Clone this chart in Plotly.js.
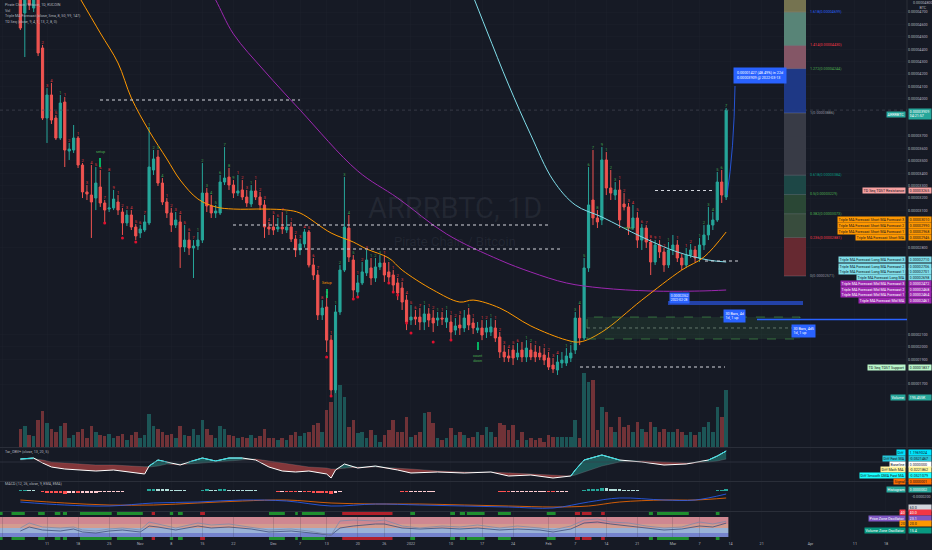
<!DOCTYPE html>
<html><head><meta charset="utf-8">
<script src="https://cdn.plot.ly/plotly-3.0.1.min.js"></script>
<style>html,body{margin:0;padding:0;background:#161a25;overflow:hidden}#chart{width:932px;height:550px}</style>
</head><body><div id="chart"></div>
<script>
// ===== DATA (prices in satoshi = 1e-8 BTC, one candle per day from 2021-10-05) =====
const firstDay = [2021, 9, 5];
const openSat = [
4880,4692,4880,4732,4830,4410,3845,4031,3845,3684,
3974,3579,3587,3684,3466,3249,3224,3200,3289,3160,
3111,3120,3168,3087,2999,3063,2966,2918,2942,2999,
3426,3531,3321,3168,3079,2982,3007,2805,2861,2797,
2813,2861,3240,3136,3079,3079,3329,3369,3305,3240,
3265,3208,3152,3257,3208,3144,2966,2966,2950,2966,
2942,2966,2869,2781,2830,2926,2660,2579,2257,2321,
2054,1652,2281,2619,2958,2700,2442,2515,2596,2636,
2555,2644,2676,2604,2579,2515,2474,2377,2216,2240,
2240,2200,2265,2232,2216,2232,2200,2200,2135,2176,
2152,2257,2192,2135,2152,2119,2119,2152,2079,1958,
1926,1974,1918,1974,1918,1974,1958,1950,1934,1910,
1853,1813,1869,1869,1910,1974,2232,2071,2636,3184,
3039,3023,3507,3281,3224,3265,3152,3128,2958,3039,
2861,2958,2845,2684,2821,2765,2660,2781,2821,2716,
2660,2740,2781,2716,2821,2902,2982,3023,3329,3208];
const highSat = [
4950,4900,4950,4920,4870,4434,4087,4128,3870,4031,
4015,3644,3789,3700,3482,3305,3466,3450,3426,3184,
3410,3265,3224,3120,3103,3103,2990,2982,3063,3773,
3587,3587,3361,3200,3120,3087,3063,2982,2926,2861,
2926,3482,3281,3224,3144,3386,3611,3442,3345,3386,
3345,3265,3305,3345,3249,3184,3007,3063,3039,3087,
3063,3007,2902,2870,2950,2942,2716,2619,2377,2418,
2095,2337,2660,3370,3063,2740,2579,2684,2781,2716,
2716,2740,2740,2684,2619,2555,2523,2418,2337,2297,
2313,2337,2313,2297,2281,2281,2297,2257,2232,2257,
2297,2313,2232,2200,2216,2216,2232,2216,2119,2014,
1982,2014,2031,2039,2054,2031,2014,2006,1990,1958,
1910,1934,1958,1990,2014,2281,2337,2716,3450,3587,
3103,3611,3571,3426,3329,3345,3240,3160,3144,3087,
2990,2982,2869,2861,2861,2797,2845,2902,2861,2748,
2797,2829,2813,2878,2982,3128,3087,3410,3426,3926];
const lowSat = [
4555,4337,4716,4700,4345,3829,3644,3797,3668,3668,
3450,3507,3563,3442,3200,3184,2878,3103,3128,2999,
3087,3103,3063,2902,2974,2942,2861,2878,2926,2982,
3386,3297,3144,3039,2926,2958,2636,2765,2740,2555,
2781,2837,3087,3039,3039,3063,3305,3265,3200,3216,
3184,3128,3128,3184,3103,2878,2902,2902,2926,2910,
2918,2845,2724,2740,2800,2640,2539,2216,2216,1958,
1595,1627,2257,2603,2684,2394,2402,2498,2571,2498,
2523,2619,2523,2515,2442,2377,2297,2135,2176,2176,
2135,2135,2160,2119,2168,2176,2152,2054,2095,2095,
2119,2135,2103,2111,2054,2071,2087,2039,1910,1877,
1877,1853,1893,1877,1877,1893,1877,1893,1853,1813,
1789,1773,1829,1845,1877,1942,2014,2054,2604,2982,
2958,2982,3224,3184,3184,2958,3100,2902,2942,2797,
2781,2797,2579,2660,2716,2604,2636,2740,2684,2619,
2636,2716,2684,2684,2781,2861,2942,3007,3160,3184];
const closeSat = [
4571,4850,4757,4860,4370,3845,4031,3829,3684,3966,
3587,3595,3684,3466,3249,3232,3168,3321,3160,3103,
3120,3192,3103,2999,3063,2966,2894,2950,3007,3450,
3515,3321,3168,3079,2982,3023,2805,2861,2797,2813,
2861,3240,3136,3079,3095,3329,3361,3305,3240,3257,
3208,3160,3257,3208,3144,2966,2950,2942,2966,2950,
2966,2869,2781,2830,2926,2660,2579,2257,2313,2054,
1652,2281,2619,2966,2724,2458,2515,2604,2700,2555,
2644,2676,2579,2563,2498,2434,2361,2200,2240,2224,
2200,2265,2216,2192,2232,2224,2232,2119,2168,2152,
2232,2176,2152,2152,2095,2152,2160,2071,1958,1918,
1910,1910,1950,1918,1990,1918,1918,1918,1893,1837,
1821,1877,1893,1926,1950,2232,2071,2636,3144,3039,
3007,3507,3281,3240,3265,3023,3128,2958,3039,2861,
2958,2845,2684,2821,2765,2660,2781,2821,2716,2660,
2740,2781,2716,2821,2902,2982,3023,3329,3224,3909];
const volumeK = [
61,71,41,37,92,122,82,61,51,71,82,
31,41,51,61,31,71,51,41,37,45,
31,37,45,25,41,51,31,41,112,71,
61,51,41,45,31,71,41,37,61,41,
92,61,41,31,71,61,41,37,31,35,
31,41,31,37,61,31,29,25,31,25,41,51,37,
48,51,75,82,51,126,153,381,211,170,
68,92,48,51,31,58,41,17,41,58,92,51,51,102,34,41,51,116,119,82,
31,24,31,65,41,51,41,31,34,51,41,68,51,34,82,75,58,75,24,51,
24,31,24,31,17,41,34,34,34,34,34,92,31,252,221,228,58,
136,119,68,51,102,68,75,51,85,61,51,85,68,51,61,51,51,61,51,41,
51,41,51,68,85,51,136,102,195];

// Moving averages (sampled at day index, satoshi)
const shortMaDay = [13,18,22,25,29,33,36,40,44,48,55,60,63,70,75,78,83,86,93,99,102,108,115,123,126,131,140,149,154,159];
const shortMaSat = [4837,4531,4289,4007,3741,3515,3345,3192,3128,3111,3111,3103,3079,2918,2845,2789,2716,2619,2458,2361,2377,2313,2168,2055,2039,2119,2377,2619,2724,2926];
const midMaDay = [42,44,48,55,63,76,85,96,108,115,123,131,142,153,159];
const midMaSat = [4918,4797,4523,4224,3910,3418,3200,2910,2700,2603,2515,2474,2450,2450,2458];
const longMaDay = [101,105,110,115,120,125,131,140,148,155,159];
const longMaSat = [4918,4555,4112,3708,3345,3144,3047,2886,2765,2700,2684];

// Tar_OBV+ pane (sampled)
const obvDay  = [0,3,5,7,10,13,17,21,25,28,29,31,33,36,38,41,44,47,50,53,56,59,62,65,69,70,71,73,76,80,85,88,94,100,106,110,115,120,124,125,127,131,135,140,145,150,155,157,159];
const obvMain = [0.3,0.4,-0.1,-0.5,-0.7,-0.8,-0.9,-0.8,-1.0,-1.2,-0.4,0.2,0.0,-0.3,0.0,0.4,0.1,0.4,0.4,0.2,-0.5,-0.9,-1.0,-0.9,-1.2,-1.6,-0.8,-0.2,-0.6,-0.4,-0.8,-1.1,-1.0,-1.1,-1.0,-1.4,-1.3,-1.6,-1.4,-0.8,0.2,0.7,0.2,0.0,-0.3,-0.2,0.2,0.6,1.1];
const obvMa   = [0.2,0.3,0.2,0.0,-0.1,-0.2,-0.3,-0.3,-0.4,-0.5,-0.5,-0.4,-0.2,-0.2,-0.2,-0.1,0.0,0.1,0.2,0.3,0.1,-0.1,-0.3,-0.5,-0.6,-0.7,-0.7,-0.6,-0.5,-0.5,-0.6,-0.7,-0.9,-1.0,-1.0,-1.1,-1.2,-1.3,-1.4,-1.3,-1.0,-0.4,0.0,0.1,0.0,-0.1,0.0,0.1,0.3];

// MACD pane
const macdDay  = [0,10,20,30,40,50,60,70,80,90,100,110,120,128,135,145,152,159];
const macdLine = [-11,-14,-15,-12,-11,-9,-10,-15,-13,-14,-15,-16,-17,-11,-7,-9,-9,-3];
const signalLn = [-9,-12,-14,-14,-12,-10,-9,-12,-13,-13,-14,-15,-16,-15,-11,-9,-9,-7];
const macdHist = [1,1.2,1,0.8,0.5,
-1,-1.8,-2,-2.2,-2.3,-2.5,-2.4,-2.2,-2.3,-2.2,-2,
-1.8,-1.5,-1.2,-1,-0.8,-0.6,-0.5,-0.5,-0.3,-0.2,-0.2,0.1,
0.5,2,2.5,2.2,2,1.8,1.5,1.2,0.8,0.6,0.5,0.3,0.4,
1.5,1.6,1.5,1.4,1.6,1.7,1.5,1.3,1.2,1,0.9,0.8,0.7,0.5,
0.1,-0.2,-0.4,-0.5,-0.5,-0.6,-0.8,-1,-1,-1.1,-1.3,-1.6,-1.8,-2,-2.2,
-2.5,-1.5,-0.5,0.5,0.4,0.2,0.2,0.3,0.4,0.3,0.3,
0.3,0.2,0.1,-0.1,-0.3,-0.5,-0.8,-0.8,-0.7,-0.7,-0.6,-0.6,-0.5,-0.4,-0.4,-0.3,-0.4,-0.3,-0.3,-0.2,
-0.2,-0.2,-0.2,-0.3,-0.2,-0.2,-0.3,-0.6,-0.7,-0.8,-0.8,-0.7,-0.7,-0.6,-0.6,-0.6,-0.6,-0.6,-0.7,-0.8,-0.7,-0.6,-0.5,-0.4,
0.2,0.3,1.5,2.2,2.5,2.5,2.8,2.6,2.4,2.2,1.8,1.5,1.2,1,0.8,0.5,
0.3,0,-0.3,-0.3,-0.4,-0.4,-0.3,-0.3,-0.4,-0.3,-0.2,-0.2,-0.1,0.1,0.3,0.5,1.2,1.3,2.2];

// Price / Volume zone oscillator pane
const pzoDay = [0,2,5,9,12,14,17,20,23,27,29,31,35,40,43,47,52,56,61,65,70,72,75,80,82,86,90,95,99,103,108,112,117,120,124,127,130,133,137,141,145,149,153,156,159];
const pzo = [-4,16,0,-4,0,-12,-16,-8,-4,-12,20,12,-4,16,8,12,0,-12,-8,-16,-32,24,28,24,28,4,-4,4,0,8,-4,4,-4,-12,4,28,32,20,16,4,-4,0,20,12,23.1];
const vzo = [-16,0,-12,-16,-8,-20,-24,-16,-12,-20,4,0,-12,4,-4,0,-8,-20,-16,-24,-32,-4,4,12,12,-4,-8,-4,-8,-4,-12,-8,-12,-20,-8,16,20,12,4,-4,-12,-8,4,0,15.4];
const zoneLevels = [40, 12, -4, -24, -40];
const zoneColors = ['#e3939d','#e8ab9c','#a9c3ea','#7f8fe0'];
const sigGreen = [['2021-09-30','2021-10-01'],['2021-10-03','2021-10-06'],['2021-10-09','2021-10-10 12:00'],['2021-10-12 18:00','2021-10-14'],['2021-10-14 14:00','2021-10-15 12:00'],['2021-10-18 10:00','2021-10-25 14:00'],['2021-10-26 18:00','2021-11-01 14:00'],['2021-11-07 16:00','2021-11-08 10:00'],['2021-11-09 12:00','2021-11-10 14:00'],['2021-11-30','2021-12-03 14:00'],['2021-12-05 22:00','2021-12-06 12:00'],['2021-12-07 10:00','2021-12-12 14:00'],['2021-12-31 20:00','2022-01-01 22:00'],['2022-01-09 20:00','2022-01-10 22:00'],['2022-01-12','2022-01-13 04:00'],['2022-01-13 14:00','2022-01-17 14:00'],['2022-01-20 14:00','2022-01-23 12:00'],['2022-01-31 14:00','2022-02-02 14:00'],['2022-02-23 14:00','2022-02-24 12:00'],['2022-02-25 10:00','2022-03-04 14:00'],['2022-03-10 16:00','2022-03-11 12:00']];
const sigRed = [['2021-11-03 14:00','2021-11-04 08:00'],['2021-11-14 12:00','2021-11-15 14:00'],['2021-12-16 12:00','2021-12-27 20:00'],['2022-02-06 22:00','2022-02-08 02:00'],['2022-02-08 12:00','2022-02-10 16:00'],['2022-02-12 20:00','2022-02-13 16:00']];

// TD Seq red markers
const tdDotDay = [19,23,26,69,70,75,76,83,84,85,87,88,93,97];
const tdDotSat = [2999,2878,2845,1918,1603,2386,2402,2515,2442,2418,2192,2111,2039,2054];

// Fibonacci retracement
const fibZero = 2571, fibOne = 3886;
const fibLevels = [0,0.236,0.382,0.5,0.618,1,1.272,1.414,1.618,2];
const fibBandColors = ['#6a2a31','#3a4f3e','#2b4a36','#1d4a48','#3a3d48','#1f3a8a','#8a5a69','#5c8a7b','#7a7852'];
const fibLabelColors = ['#9598a1','#f23645','#4caf50','#4caf50','#089981','#9598a1','#4caf50','#f23645','#2962ff'];

// Axis ticks
const priceTicksSat = [1700,1800,1900,2000,2100,2200,2300,2400,2500,2600,2700,2800,2900,3000,3100,3200,3300,3400,3500,3600,3700,3800,3900,4000,4100,4200,4300,4400,4500,4600,4700];
const xTickDates = ['2021-10-01','2021-10-11','2021-10-18','2021-10-25','2021-11-01','2021-11-08','2021-11-15','2021-11-22','2021-12-01','2021-12-07','2021-12-13','2021-12-20','2021-12-26','2022-01-01','2022-01-10','2022-01-17','2022-01-24','2022-02-01','2022-02-07','2022-02-14','2022-02-21','2022-03-01','2022-03-07','2022-03-14','2022-03-21','2022-04-01','2022-04-11','2022-04-18'];
const xTickText = ['Oct','11','18','25','Nov','8','15','22','Dec','7','13','20','26','2022','10','17','24','Feb','7','14','21','Mar','7','14','21','Apr','11','18'];

// ===== BUILD =====
const S = v => v * 1e-8;
function day(i){ const d = new Date(Date.UTC(firstDay[0], firstDay[1], firstDay[2] + i)); return d.toISOString().slice(0,10); }
const dates = openSat.map((_, i) => day(i));
const PH = 540, PW = 907;
const yp = px => 1 - px / PH;
const xp = px => px / PW;
const FONT = 'Roboto, "DejaVu Sans", sans-serif';
const FS = 3.7;
const P_TOP = 4797, P_BOT = 1192;
const satToPx = v => (P_TOP - v) / (P_TOP - P_BOT) * 447;

// TD setup counts derived from closes (close vs close 4 bars earlier)
const tdX = [], tdY = [], tdT = [], tdC = [];
{
  let up = 0, dn = 0;
  for (let i = 4; i < closeSat.length; i++) {
    if (closeSat[i] > closeSat[i-4]) { up = up >= 9 ? 1 : up + 1; dn = 0; }
    else if (closeSat[i] < closeSat[i-4]) { dn = dn >= 9 ? 1 : dn + 1; up = 0; }
    else { up = 0; dn = 0; }
    const c = up || dn;
    if (c && satToPx(highSat[i]) > 12) { tdX.push(dates[i]); tdY.push(S(highSat[i])); tdT.push(String(c)); tdC.push(up ? '#3fa34d' : '#e0383e'); }
  }
}

const traces = [];
traces.push({type:'bar', x:dates, y:volumeK, yaxis:'y', xaxis:'x',
  marker:{color: dates.map((_,i)=> closeSat[i] >= openSat[i] ? 'rgba(38,166,154,0.42)' : 'rgba(239,83,80,0.42)'), line:{width:0}},
  width: 0.8*86400000, hoverinfo:'skip'});
traces.push({type:'scatter', mode:'lines', x:midMaDay.map(day), y:midMaSat.map(S), yaxis:'y2', line:{color:'#9c27b0', width:1, shape:'spline'}, hoverinfo:'skip'});
traces.push({type:'scatter', mode:'lines', x:longMaDay.map(day), y:longMaSat.map(S), yaxis:'y2', line:{color:'#80deea', width:1, shape:'spline'}, hoverinfo:'skip'});
traces.push({type:'scatter', mode:'lines', x:shortMaDay.map(day), y:shortMaSat.map(S), yaxis:'y2', line:{color:'#ff9800', width:1, shape:'spline'}, hoverinfo:'skip'});
traces.push({type:'candlestick', x:dates, open:openSat.map(S), high:highSat.map(S), low:lowSat.map(S), close:closeSat.map(S),
  yaxis:'y2', xaxis:'x', whiskerwidth:0,
  increasing:{line:{color:'#26a69a', width:1}, fillcolor:'#26a69a'},
  decreasing:{line:{color:'#ef5350', width:1}, fillcolor:'#ef5350'}, hoverinfo:'skip'});
traces.push({type:'scatter', mode:'markers', x:tdDotDay.map(day), y:tdDotSat.map(S), yaxis:'y2', marker:{color:'#e0102f', size:3}, hoverinfo:'skip'});
traces.push({type:'scatter', mode:'text', x:tdX, y:tdY, text:tdT, textposition:'top center', yaxis:'y2',
  textfont:{family:FONT, size:4, color:tdC}, hoverinfo:'skip', cliponaxis:true});

const obvX = obvDay.map(day);
const obvHi = obvMain.map((v,i)=>Math.max(v, obvMa[i]));
const obvLo = obvMain.map((v,i)=>Math.min(v, obvMa[i]));
traces.push({type:'scatter', mode:'lines', x:obvX, y:obvMa, yaxis:'y3', line:{color:'rgba(120,120,130,0.6)', width:0.6}, hoverinfo:'skip'});
traces.push({type:'scatter', mode:'lines', x:obvX, y:obvHi, yaxis:'y3', line:{width:0}, fill:'tonexty', fillcolor:'rgba(38,166,154,0.45)', hoverinfo:'skip'});
traces.push({type:'scatter', mode:'lines', x:obvX, y:obvMa, yaxis:'y3', line:{width:0}, hoverinfo:'skip'});
traces.push({type:'scatter', mode:'lines', x:obvX, y:obvLo, yaxis:'y3', line:{width:0}, fill:'tonexty', fillcolor:'rgba(239,83,80,0.5)', hoverinfo:'skip'});
traces.push({type:'scatter', mode:'lines', x:obvX, y:obvMain, yaxis:'y3', line:{color:'#ffffff', width:1}, hoverinfo:'skip'});
traces.push({type:'scatter', mode:'lines', x:obvX, y:obvMain.map((v,i)=> v >= obvMa[i] ? v : null), yaxis:'y3', line:{color:'#26e0e6', width:1}, connectgaps:false, hoverinfo:'skip'});

traces.push({type:'bar', x:dates, y:macdHist, yaxis:'y4', width:0.8*86400000,
  marker:{color: macdHist.map((v,i)=>{const p = i>0?macdHist[i-1]:v; return v>=0 ? (v>=p?'#26a69a':'#b2dfdb') : (v<p?'#ff5252':'#ffcdd2');}), line:{width:0}}, hoverinfo:'skip'});
traces.push({type:'scatter', mode:'lines', x:macdDay.map(day), y:signalLn, yaxis:'y4', line:{color:'#ff6d00', width:0.8, shape:'spline'}, hoverinfo:'skip'});
traces.push({type:'scatter', mode:'lines', x:macdDay.map(day), y:macdLine, yaxis:'y4', line:{color:'#2962ff', width:0.8, shape:'spline'}, hoverinfo:'skip'});

traces.push({type:'scatter', mode:'lines', x:pzoDay.map(day), y:vzo, yaxis:'y5', line:{color:'#3f4f7a', width:0.8}, hoverinfo:'skip'});
traces.push({type:'scatter', mode:'lines', x:pzoDay.map(day), y:pzo, yaxis:'y5', line:{color:'#7f8aa8', width:0.8}, hoverinfo:'skip'});

// ===== SHAPES =====
const shapes = [];
const lastDay = day(openSat.length - 1);
for (let i = 0; i < zoneColors.length; i++) {
  shapes.push({type:'rect', xref:'x', yref:'y5', x0:'2021-09-30', x1:lastDay+' 12:00', y0:zoneLevels[i+1], y1:zoneLevels[i], fillcolor:zoneColors[i], line:{width:0}, layer:'below', opacity:0.9});
}
[[512,515],[537,540]].forEach(([a,b])=>{
  sigGreen.forEach(([s,e])=>shapes.push({type:'rect', xref:'x', yref:'paper', x0:s, x1:e, y0:yp(b), y1:yp(a), fillcolor:'#1e8e2e', line:{width:0}}));
  sigRed.forEach(([s,e])=>shapes.push({type:'rect', xref:'x', yref:'paper', x0:s, x1:e, y0:yp(b), y1:yp(a), fillcolor:'#b0202a', line:{width:0}}));
});
[447.5, 481.5, 511.5].forEach(p=>shapes.push({type:'line', xref:'paper', yref:'paper', x0:0, x1:1.03, y0:yp(p), y1:yp(p), line:{color:'#2a2e39', width:1}}));
shapes.push({type:'line', xref:'paper', yref:'paper', x0:1, x1:1, y0:0, y1:1, line:{color:'#2a2e39', width:1}});
shapes.push({type:'line', xref:'paper', yref:'y3', x0:0, x1:1, y0:0, y1:0, line:{color:'#3a3e4a', width:0.6}});
shapes.push({type:'line', xref:'paper', yref:'y2', x0:0, x1:1, y0:S(closeSat[closeSat.length-1]), y1:S(closeSat[closeSat.length-1]), line:{color:'#4b4f5c', width:0.6, dash:'dot'}});
const dotted = [[xp(100), xp(300), 3990],[xp(233), xp(560), 2789],[xp(233), xp(548), 2982],[xp(655), xp(713), 3261],[xp(705), xp(740), 2692],[xp(580), xp(725), 1837]];
dotted.forEach(([a,b,v])=>shapes.push({type:'line', xref:'paper', yref:'y2', x0:a, x1:b, y0:S(v), y1:S(v), line:{color:'#d1d4dc', width:1.1, dash:'dot'}}));
for (let i = 0; i < fibLevels.length - 1; i++) {
  const lo = fibZero + (fibOne - fibZero) * fibLevels[i];
  const hi = fibZero + (fibOne - fibZero) * fibLevels[i+1];
  shapes.push({type:'rect', xref:'paper', yref:'y2', x0:xp(784), x1:xp(806), y0:S(lo), y1:S(hi), fillcolor:fibBandColors[i], line:{width:0}, opacity:0.95});
  shapes.push({type:'line', xref:'paper', yref:'y2', x0:xp(784), x1:xp(806), y0:S(lo), y1:S(lo), line:{color:'rgba(200,200,210,0.35)', width:0.6}});
}
shapes.push({type:'rect', xref:'paper', yref:'y2', x0:xp(587), x1:xp(800), y0:S(2063), y1:S(2240), fillcolor:'rgba(76,175,80,0.12)', line:{color:'rgba(76,175,80,0.7)', width:0.8, dash:'dash'}});
shapes.push({type:'line', xref:'paper', yref:'y2', x0:xp(587), x1:xp(800), y0:S(2152), y1:S(2152), line:{color:'rgba(200,230,200,0.5)', width:0.8, dash:'dot'}});
shapes.push({type:'rect', xref:'paper', yref:'y2', x0:xp(668), x1:xp(803), y0:S(2337), y1:S(2369), fillcolor:'#2342a8', line:{width:0}});
shapes.push({type:'line', xref:'paper', yref:'y2', x0:xp(757), x1:1, y0:S(2220), y1:S(2220), line:{color:'#2962ff', width:1.5}});
shapes.push({type:'path', xref:'paper', yref:'paper', path:`M ${xp(727)} ${yp(195)} Q ${xp(734)} ${yp(150)} ${xp(735)} ${yp(86)}`, line:{color:'#2962ff', width:0.8}});

// ===== ANNOTATIONS =====
const ann = [];
function txt(t, x, y, o={}) {
  ann.push(Object.assign({xref:'paper', yref:'paper', x:xp(x), y:yp(y), text:t, showarrow:false, xanchor:'left', yanchor:'middle',
    font:{family:FONT, size:FS, color:'#b2b5be'}}, o));
}
txt('Pirate Chain / Bitcoin, 1D, KUCOIN', 3, 5);
txt('Vol', 3, 10.5);
txt('Triple MA Forecast (close, Sma, 8, 50, 99, 147)', 3, 16);
txt('TD Seq (close, 9, 4, 1, 13, 2, 8, 0)', 3, 21.5);
txt('Tar_OBV+ (close, 13, 20, 5)', 3, 452);
txt('MACD (12, 26, close, 9, EMA, EMA)', 3, 484);
txt('ARRRBTC, 1D', 455, 208, {xanchor:'center', font:{family:FONT, size:29, color:'rgba(125,130,145,0.13)'}});
txt('Pirate Chain / Bitcoin', 455, 241, {xanchor:'center', font:{family:FONT, size:13, color:'rgba(125,130,145,0.13)'}});
for (let i = 0; i < fibLevels.length - 1; i++) {
  const v = fibZero + (fibOne - fibZero) * fibLevels[i];
  ann.push({xref:'paper', yref:'y2', x:xp(808), y:S(v), text:`${fibLevels[i]}(${S(v).toFixed(8)})`, showarrow:false, xanchor:'left', yanchor:'middle', font:{family:FONT, size:FS, color:fibLabelColors[i]}});
}
txt('0.00001427 (48.49%) in 22d<br>0.00003909 @ 2022-03-13', 733, 76, {bgcolor:'#2962ff', font:{family:FONT, size:FS, color:'#ffffff'}, borderpad:3, align:'left'});
txt('30 Bars, 4d<br>1d, 1 up', 723, 316, {bgcolor:'#2962ff', font:{family:FONT, size:FS, color:'#ffffff'}, borderpad:1.5, align:'left'});
txt('30 Bars, 4d5<br>1d, 1 up', 791, 331, {bgcolor:'#2962ff', font:{family:FONT, size:FS, color:'#ffffff'}, borderpad:1.5, align:'left'});
txt('0.00002362<br>2022-02-28', 669, 298, {bgcolor:'#2962ff', font:{family:FONT, size:FS-0.4, color:'#ffffff'}, borderpad:0.8, align:'left'});
txt('setup', 100, 152, {xanchor:'center', font:{family:FONT, size:FS, color:'#4caf50'}});
txt('Setup', 326, 283, {xanchor:'center', font:{family:FONT, size:FS, color:'#ff9800'}});
txt('count<br>down', 478, 358, {xanchor:'center', font:{family:FONT, size:FS, color:'#4caf50'}});
txt('setup', 628, 228, {xanchor:'center', font:{family:FONT, size:FS, color:'#4caf50'}});
shapes.push({type:'line', xref:'paper', yref:'paper', x0:xp(100), x1:xp(100), y0:yp(158), y1:yp(167), line:{color:'#00e676', width:1.5}});
shapes.push({type:'line', xref:'paper', yref:'paper', x0:xp(327), x1:xp(327), y0:yp(289), y1:yp(298), line:{color:'#00e676', width:1.5}});
shapes.push({type:'line', xref:'paper', yref:'paper', x0:xp(478), x1:xp(478), y0:yp(342), y1:yp(350), line:{color:'#00e676', width:1.5}});

const labelYs = [];
function axisLabel(name, value, yPx, bg, fg) {
  labelYs.push(yPx);
  if (name) ann.push({xref:'paper', yref:'paper', x:xp(906), y:yp(yPx), text:name, showarrow:false, xanchor:'right', yanchor:'middle', bgcolor:bg, borderpad:0.6, font:{family:FONT, size:FS, color:fg}});
  ann.push({xref:'paper', yref:'paper', x:xp(908), y:yp(yPx), text:value, showarrow:false, xanchor:'left', yanchor:'middle', bgcolor:bg, borderpad:0.6, width:21, align:'left', font:{family:FONT, size:FS, color:fg}});
}
txt('0.00004800<br>BTC', 911, 5, {font:{family:FONT, size:FS, color:'#b2b5be'}, align:'center'});
axisLabel('ARRRBTC', '0.00003909<br>04:21:57', 114, '#26a69a', '#ffffff');
labelYs.push(109, 119);
axisLabel('TD Seq TDST Resistance', '0.00003265', 191, '#f7a1a1', '#131722');
axisLabel('Triple MA Forecast Short MA Forecast 3', '0.00003010', 219, '#ff9800', '#131722');
axisLabel('Triple MA Forecast Short MA Forecast 2', '0.00002990', 225, '#ff9800', '#131722');
axisLabel('Triple MA Forecast Short MA Forecast 1', '0.00002968', 231, '#ff9800', '#131722');
axisLabel('Triple MA Forecast Short MA', '0.00002946', 237, '#ff9800', '#131722');
axisLabel('Triple MA Forecast Long MA Forecast 3', '0.00002710', 260, '#80deea', '#131722');
axisLabel('Triple MA Forecast Long MA Forecast 2', '0.00002706', 266, '#80deea', '#131722');
axisLabel('Triple MA Forecast Long MA Forecast 1', '0.00002701', 271.5, '#80deea', '#131722');
axisLabel('Triple MA Forecast Long MA', '0.00002698', 277, '#80deea', '#131722');
axisLabel('Triple MA Forecast Mid MA Forecast 3', '0.00002472', 283, '#9c27b0', '#ffffff');
axisLabel('Triple MA Forecast Mid MA Forecast 2', '0.00002468', 289, '#9c27b0', '#ffffff');
axisLabel('Triple MA Forecast Mid MA Forecast 1', '0.00002464', 294.5, '#9c27b0', '#ffffff');
axisLabel('Triple MA Forecast Mid MA', '0.00002461', 300, '#9c27b0', '#ffffff');
axisLabel('TD Seq TDST Support', '0.00001837', 367, '#b9f6ca', '#131722');
axisLabel('Volume', '195.455K', 397, '#26a69a', '#ffffff');
labelYs.push(313, 318);
axisLabel('Diff', '1.1969024', 452, '#00e5ff', '#131722');
axisLabel('Diff Fast MA', '-0.0521467', 458.5, '#26c6da', '#131722');
axisLabel('Baseline', '0.0000000', 464, '#ffffff', '#131722');
axisLabel('Diff Math MA', '-0.0221862', 469.5, '#fff59d', '#131722');
axisLabel('Diff Smooth DMA Fast MA', '-0.0521079', 475, '#18ffff', '#131722');
axisLabel('Signal', '0.0000001', 481, '#ff6d00', '#131722');
axisLabel('Histogram', '0.0000002', 489, '#26a69a', '#ffffff');
txt('-0.0000200', 910, 497, {font:{family:FONT, size:FS, color:'#b2b5be'}});
axisLabel('', '60.0', 507, '#d1d4dc', '#131722');
axisLabel('40', '40.0', 512.5, '#f23645', '#ffffff');
axisLabel('Price Zone Oscillator', '23.1', 518, '#7e57c2', '#ffffff');
axisLabel('20', '20.0', 523.5, '#ff9800', '#131722');
axisLabel('Volume Zone Oscillator', '15.4', 530, '#089981', '#ffffff');

const shownTicks = priceTicksSat.filter(v => labelYs.every(y => Math.abs(satToPx(v) - y) > 5));

const axBase = {showgrid:false, zeroline:false, showticklabels:false, fixedrange:true, showline:false};
const layout = {
  width:932, height:550, margin:{l:0, r:25, t:0, b:10},
  paper_bgcolor:'#161a25', plot_bgcolor:'#161a25', showlegend:false, hovermode:false, dragmode:false,
  bargap:0,
  xaxis:{type:'date', range:['2021-09-30 09:53','2022-04-22 17:45'], anchor:'y5', rangeslider:{visible:false},
    tickvals:xTickDates, ticktext:xTickText, tickfont:{family:FONT, size:FS, color:'#b2b5be'}, ticks:'',
    showgrid:true, gridcolor:'rgba(42,46,57,0.35)', gridwidth:0.5, zeroline:false, showline:false, fixedrange:true},
  yaxis:Object.assign({}, axBase, {domain:[yp(447), 1], range:[0, 1520]}),
  yaxis2:{overlaying:'y', side:'right', range:[S(P_BOT), S(P_TOP)], tickmode:'array', tickvals:shownTicks.map(S), tickformat:'.8f',
    tickfont:{family:FONT, size:FS, color:'#b2b5be'}, ticks:'', showgrid:true, gridcolor:'rgba(42,46,57,0.35)', gridwidth:0.5, zeroline:false, fixedrange:true},
  yaxis3:Object.assign({}, axBase, {domain:[yp(481), yp(448)], range:[-1.9, 1.4]}),
  yaxis4:Object.assign({}, axBase, {domain:[yp(511), yp(482)], range:[-20, 9]}),
  yaxis5:Object.assign({}, axBase, {domain:[0, yp(512)], range:[-52, 60]}),
  shapes, annotations:ann
};
Plotly.newPlot('chart', traces, layout, {staticPlot:true, displayModeBar:false});
</script></body></html>
